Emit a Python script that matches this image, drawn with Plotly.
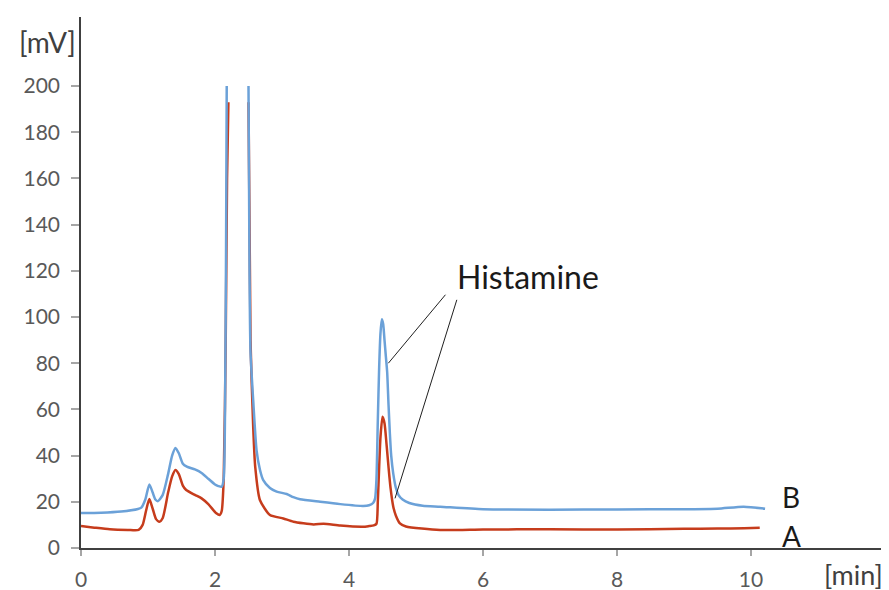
import plotly.graph_objects as go

# Chromatogram B (upper, blue)
time_b = [0, 0.3, 0.6, 0.85, 0.9, 0.96, 1.02, 1.07, 1.11, 1.15, 1.22, 1.3, 1.36, 1.41, 1.46, 1.52,
          1.58, 1.7, 1.8, 1.9, 2.0, 2.05, 2.1, 2.13, 2.15, 2.165, 2.175, None,
          2.5, 2.515, 2.53, 2.57, 2.62, 2.67, 2.72, 2.82, 2.92, 3.07, 3.17, 3.27, 3.57, 3.87,
          4.21, 4.3, 4.36, 4.39, 4.41, 4.43, 4.45, 4.47, 4.49, 4.51, 4.53, 4.55, 4.57, 4.59,
          4.61, 4.63, 4.66, 4.7, 4.74, 4.8, 4.9, 5.1, 5.36, 6, 7, 8, 9, 9.5, 9.89, 10.21]
mv_b = [15.2, 15.3, 15.8, 16.9, 17.5, 21, 27.5, 24, 21, 20.3, 23, 32, 40, 43.3, 41, 36.5,
        35.2, 34, 32.5, 30, 27.5, 26.8, 26.5, 30, 60, 130, 200, None,
        200, 120, 85, 64, 42.4, 34, 29.4, 26, 24.4, 23.4, 22, 21.1, 20.0, 19.0,
        18.2, 18.5, 19.5, 21.5, 30, 55, 78, 93, 99, 97, 90, 83, 76, 62,
        49.6, 40, 32.3, 26, 22.9, 21, 19.5, 18.3, 17.9, 16.8, 16.6, 16.7, 16.8, 17.0, 17.9, 17.0]

# Chromatogram A (lower, red)
time_a = [0, 0.2, 0.43, 0.7, 0.86, 0.92, 0.97, 1.02, 1.07, 1.12, 1.17, 1.22, 1.3, 1.36, 1.41,
          1.46, 1.52, 1.57, 1.7, 1.8, 1.9, 2.02, 2.07, 2.1, 2.13, 2.16, 2.18, 2.2, None,
          2.5, 2.53, 2.57, 2.6, 2.67, 2.82, 3.02, 3.17, 3.47, 3.62, 3.87, 4.21, 4.3, 4.37,
          4.41, 4.43, 4.45, 4.47, 4.5, 4.53, 4.56, 4.59, 4.62, 4.66, 4.7, 4.76, 4.85,
          5.36, 6, 7, 8, 9, 9.5, 9.9, 10.13]
mv_a = [9.5, 8.8, 8.1, 7.8, 7.8, 10, 16, 21.2, 17, 12.5, 11.4, 13, 24, 31, 33.8,
        32, 27, 25.1, 23, 21.5, 19, 15, 14.3, 16, 30, 90, 160, 193, None,
        193, 90, 52.5, 35.2, 20.8, 14.3, 12.8, 11.4, 10.2, 10.5, 9.7, 9.2, 9.5, 9.8,
        10.5, 20, 35, 48, 56.8, 54, 45, 35, 26, 18, 14, 10.7, 9.3,
        7.8, 8.0, 8.1, 8.0, 8.3, 8.4, 8.6, 8.8]

x_ticks = [0, 2, 4, 6, 8, 10]
y_ticks = [0, 20, 40, 60, 80, 100, 120, 140, 160, 180, 200]

FONT = "Lato"
fig = go.Figure()
fig.add_trace(go.Scatter(x=time_a, y=mv_a, mode="lines", name="A",
                         line=dict(color="#c63c1c", width=2.5, shape="spline", smoothing=0.6),
                         connectgaps=False))
fig.add_trace(go.Scatter(x=time_b, y=mv_b, mode="lines", name="B",
                         line=dict(color="#6ba1d8", width=2.5, shape="spline", smoothing=0.6),
                         connectgaps=False))

# page has an 8px body margin, so the figure is 8px smaller and margins shifted by 8px
fig.update_layout(
    width=881, height=582,
    margin=dict(l=73, r=6, t=9, b=42),
    plot_bgcolor="white", paper_bgcolor="white",
    showlegend=False,
    font=dict(family=FONT, size=21, color="#595959"),
    xaxis=dict(range=[0, 11.97], tickvals=x_ticks, showgrid=False, zeroline=False,
               showline=True, linecolor="#404040", linewidth=1.5,
               ticks="outside", ticklen=6, tickcolor="#a6a6a6", tickwidth=2,
               ticklabelstandoff=6, automargin=False),
    yaxis=dict(range=[0, 229.9], tickvals=y_ticks, showgrid=False, zeroline=False,
               showline=True, linecolor="#404040", linewidth=1.5,
               ticks="outside", ticklen=8, tickcolor="#a6a6a6", tickwidth=2,
               ticklabelstandoff=7, automargin=False),
)

# Pointer lines for the Histamine label
fig.add_annotation(x=4.587, y=80.0, ax=5.458, ay=110.3, xref="x", yref="y", axref="x", ayref="y",
                   showarrow=True, arrowhead=0, arrowwidth=1, arrowcolor="#202020", text="")
fig.add_annotation(x=4.687, y=21.5, ax=5.616, ay=108.1, xref="x", yref="y", axref="x", ayref="y",
                   showarrow=True, arrowhead=0, arrowwidth=1, arrowcolor="#202020", text="")
fig.add_annotation(x=6.67, y=117.7, text="Histamine", showarrow=False,
                   font=dict(family=FONT, size=32, color="#1a1a1a"))
fig.add_annotation(x=10.43, y=22.1, text="B", showarrow=False, xanchor="left",
                   font=dict(family=FONT, size=28, color="#1a1a1a"))
fig.add_annotation(x=10.43, y=5.2, text="A", showarrow=False, xanchor="left",
                   font=dict(family=FONT, size=28, color="#1a1a1a"))
fig.add_annotation(x=(47 - 81) / 802, y=(548 - 42) / 531, xref="paper", yref="paper", text="[mV]",
                   showarrow=False, xanchor="center", yanchor="middle",
                   font=dict(family=FONT, size=28, color="#404040"))
fig.add_annotation(x=(853 - 81) / 802, y=(548 - 574) / 531, xref="paper", yref="paper", text="[min]",
                   showarrow=False, xanchor="center", yanchor="middle",
                   font=dict(family=FONT, size=27, color="#404040"))

fig.write_html("out.html", config={"displayModeBar": False, "responsive": False})
